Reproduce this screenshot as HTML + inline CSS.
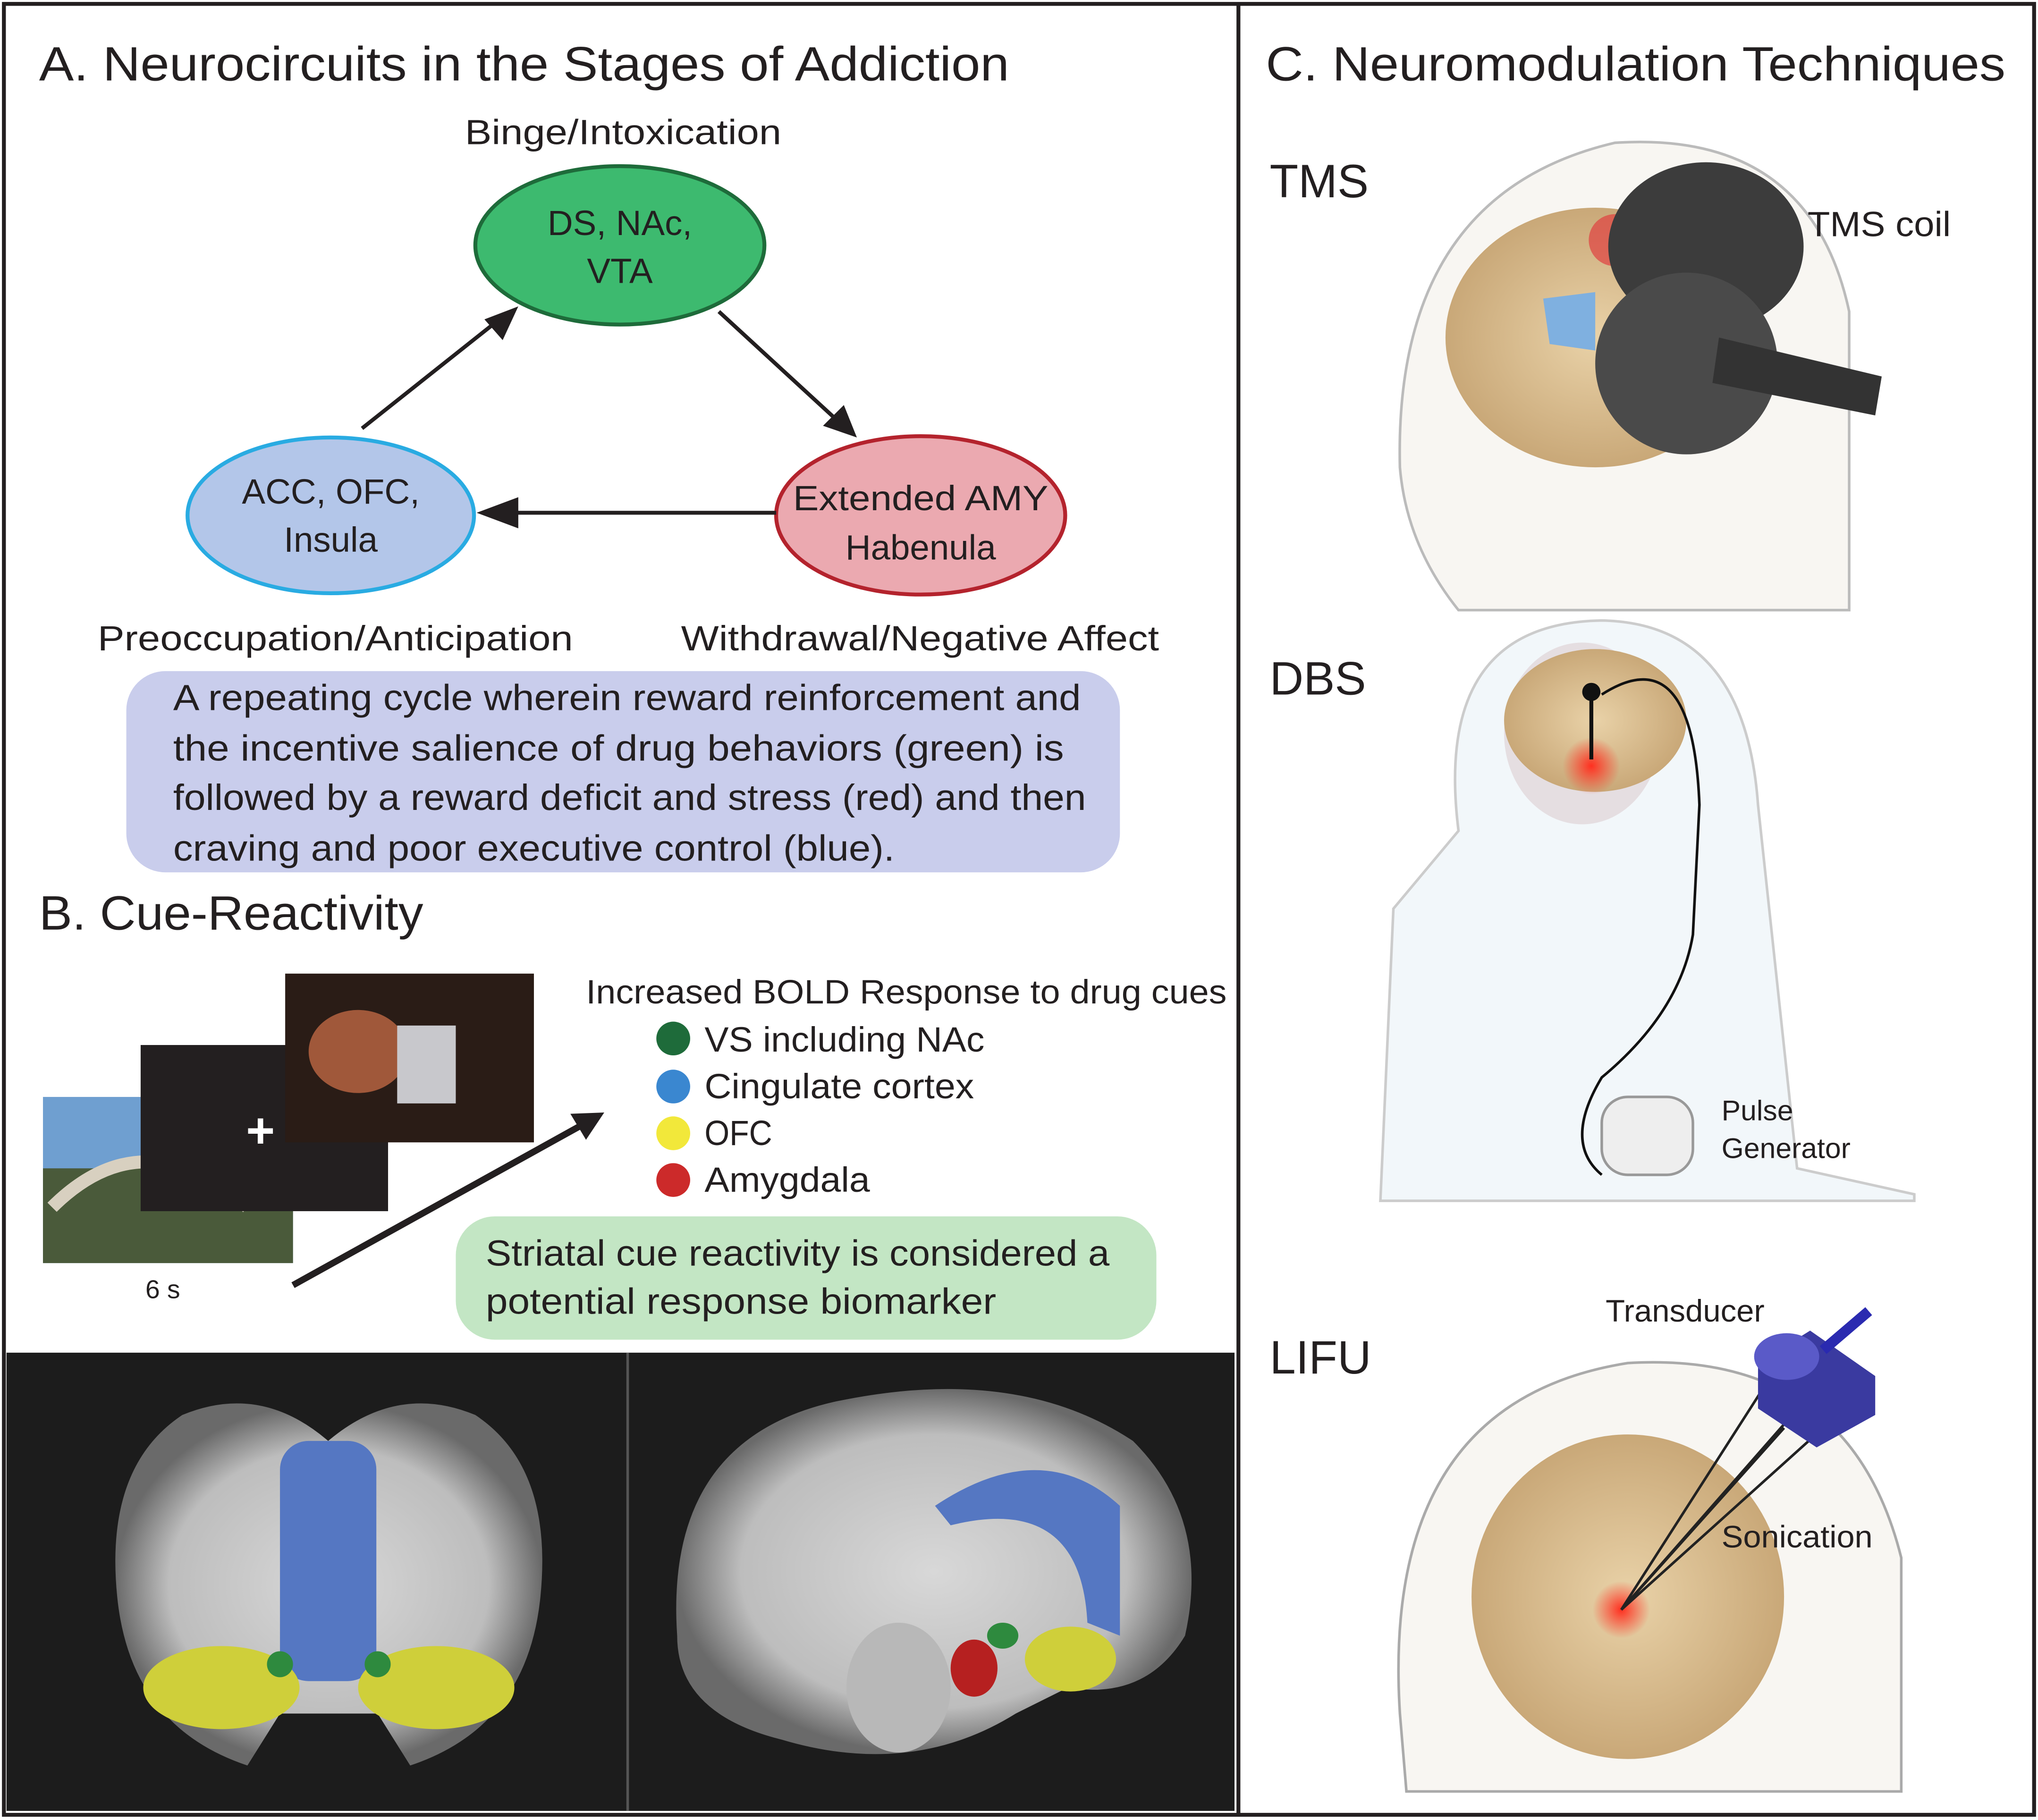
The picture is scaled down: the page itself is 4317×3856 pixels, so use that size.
<!DOCTYPE html>
<html><head><meta charset="utf-8"><style>
html,body{margin:0;padding:0;background:#fff;}
svg{display:block;}
text{font-family:"Liberation Sans","DejaVu Sans",sans-serif;fill:#231f20;}
</style></head><body>
<svg width="4317" height="3856" viewBox="0 0 1565 1402" preserveAspectRatio="none" xmlns="http://www.w3.org/2000/svg">
<defs>
<radialGradient id="glow"><stop offset="0" stop-color="#ff3020"/><stop offset="1" stop-color="#ff3020" stop-opacity="0"/></radialGradient>
<radialGradient id="brain"><stop offset="0" stop-color="#e9d2a8"/><stop offset="1" stop-color="#c9a878"/></radialGradient>
<radialGradient id="mri"><stop offset="0" stop-color="#d8d8d8"/><stop offset="0.75" stop-color="#bdbdbd"/><stop offset="1" stop-color="#6a6a6a"/></radialGradient>
</defs>
<rect x="3" y="3" width="1559" height="1395" fill="#fff" stroke="#231f20" stroke-width="3"/>
<line x1="951" y1="3" x2="951" y2="1398" stroke="#231f20" stroke-width="3"/>

<!-- A -->
<text x="30" y="62" font-size="37" textLength="745" lengthAdjust="spacingAndGlyphs">A. Neurocircuits in the Stages of Addiction</text>
<text x="357" y="111" font-size="27" textLength="243" lengthAdjust="spacingAndGlyphs">Binge/Intoxication</text>
<ellipse cx="476" cy="189" rx="111" ry="61" fill="#3dba6f" stroke="#1e6b3a" stroke-width="3"/>
<text x="476" y="181" font-size="27" text-anchor="middle">DS, NAc,</text>
<text x="476" y="218" font-size="27" text-anchor="middle">VTA</text>
<ellipse cx="254" cy="397" rx="110" ry="60" fill="#b3c6e9" stroke="#29abe2" stroke-width="3"/>
<text x="254" y="388" font-size="27" text-anchor="middle">ACC, OFC,</text>
<text x="254" y="425" font-size="27" text-anchor="middle">Insula</text>
<ellipse cx="707" cy="397" rx="111" ry="61" fill="#eba9b0" stroke="#b4232d" stroke-width="3"/>
<text x="707" y="393" font-size="27" text-anchor="middle" textLength="196" lengthAdjust="spacingAndGlyphs">Extended AMY</text>
<text x="707" y="431" font-size="27" text-anchor="middle">Habenula</text>
<line x1="278" y1="330" x2="386" y2="244" stroke="#231f20" stroke-width="3"/>
<path d="M398,236 L372,246 L386,262 z" fill="#231f20"/>
<line x1="552" y1="240" x2="642" y2="323" stroke="#231f20" stroke-width="3"/>
<path d="M658,337 L632,328 L648,312 z" fill="#231f20"/>
<line x1="596" y1="395" x2="385" y2="395" stroke="#231f20" stroke-width="3"/>
<path d="M366,395 L398,383 L398,407 z" fill="#231f20"/>
<text x="75" y="501" font-size="27" textLength="365" lengthAdjust="spacingAndGlyphs">Preoccupation/Anticipation</text>
<text x="523" y="501" font-size="27" textLength="367" lengthAdjust="spacingAndGlyphs">Withdrawal/Negative Affect</text>
<rect x="97" y="517" width="763" height="155" rx="30" fill="#c9cdec"/>
<text x="133" y="547" font-size="28" textLength="697" lengthAdjust="spacingAndGlyphs">A repeating cycle wherein reward reinforcement and</text>
<text x="133" y="586" font-size="28" textLength="684" lengthAdjust="spacingAndGlyphs">the incentive salience of drug behaviors (green) is</text>
<text x="133" y="624" font-size="28" textLength="701" lengthAdjust="spacingAndGlyphs">followed by a reward deficit and stress (red) and then</text>
<text x="133" y="663" font-size="28" textLength="554" lengthAdjust="spacingAndGlyphs">craving and poor executive control (blue).</text>

<!-- B -->
<text x="30" y="716" font-size="37" textLength="295" lengthAdjust="spacingAndGlyphs">B. Cue-Reactivity</text>
<rect x="33" y="845" width="192" height="128" fill="#6f9fd0"/>
<rect x="33" y="900" width="192" height="73" fill="#4a5a3a"/>
<path d="M40,930 Q110,860 190,930" stroke="#d8d0c0" stroke-width="10" fill="none"/>
<rect x="108" y="805" width="190" height="128" fill="#231f20"/>
<text x="200" y="884" font-size="38" text-anchor="middle" style="fill:#fff;font-weight:bold">+</text>
<rect x="219" y="750" width="191" height="130" fill="#2a1c16"/>
<ellipse cx="275" cy="810" rx="38" ry="32" fill="#a0583a"/>
<rect x="305" y="790" width="45" height="60" fill="#c8c8cc"/>
<text x="125" y="1000" font-size="20" text-anchor="middle">6 s</text>
<line x1="225" y1="990" x2="448" y2="866" stroke="#231f20" stroke-width="5"/>
<path d="M464,857 L438,858 L450,878 z" fill="#231f20"/>
<text x="450" y="773" font-size="26" textLength="492" lengthAdjust="spacingAndGlyphs">Increased BOLD Response to drug cues</text>
<circle cx="517" cy="800" r="13" fill="#1e6b3a"/>
<circle cx="517" cy="837" r="13" fill="#3a87d0"/>
<circle cx="517" cy="873" r="13" fill="#f2e83a"/>
<circle cx="517" cy="909" r="13" fill="#cc2a2a"/>
<text x="541" y="810" font-size="27" textLength="215" lengthAdjust="spacingAndGlyphs">VS including NAc</text>
<text x="541" y="846" font-size="27" textLength="207" lengthAdjust="spacingAndGlyphs">Cingulate cortex</text>
<text x="541" y="882" font-size="27" textLength="52" lengthAdjust="spacingAndGlyphs">OFC</text>
<text x="541" y="918" font-size="27" textLength="127" lengthAdjust="spacingAndGlyphs">Amygdala</text>
<rect x="350" y="937" width="538" height="95" rx="30" fill="#c3e6c4"/>
<text x="373" y="975" font-size="28" textLength="479" lengthAdjust="spacingAndGlyphs">Striatal cue reactivity is considered a</text>
<text x="373" y="1012" font-size="28" textLength="392" lengthAdjust="spacingAndGlyphs">potential response biomarker</text>

<rect x="5" y="1042" width="943" height="353" fill="#1c1c1c"/>
<line x1="482" y1="1042" x2="482" y2="1395" stroke="#555" stroke-width="2"/>
<path d="M252,1110 Q200,1065 140,1090 Q80,1130 90,1230 Q100,1330 190,1360 L215,1320 L290,1320 L315,1360 Q405,1330 415,1230 Q425,1130 365,1090 Q305,1065 252,1110 z" fill="url(#mri)"/>
<rect x="215" y="1110" width="74" height="185" rx="22" fill="#5577c2"/>
<ellipse cx="170" cy="1300" rx="60" ry="32" fill="#cfcf3a"/>
<ellipse cx="335" cy="1300" rx="60" ry="32" fill="#cfcf3a"/>
<circle cx="215" cy="1282" r="10" fill="#2e8a3e"/><circle cx="290" cy="1282" r="10" fill="#2e8a3e"/>
<path d="M520,1260 Q510,1110 640,1080 Q780,1050 870,1110 Q930,1170 910,1260 Q880,1310 820,1300 L780,1320 Q700,1370 600,1340 Q520,1320 520,1260 z" fill="url(#mri)"/>
<path d="M718,1160 Q800,1105 860,1160 L860,1260 L835,1250 Q830,1150 730,1175 z" fill="#5577c2"/>
<ellipse cx="822" cy="1278" rx="35" ry="25" fill="#cfcf3a"/>
<ellipse cx="770" cy="1260" rx="12" ry="10" fill="#2e8a3e"/>
<ellipse cx="748" cy="1285" rx="18" ry="22" fill="#b62020"/>
<ellipse cx="690" cy="1300" rx="40" ry="50" fill="#b8b8b8"/>

<!-- C -->
<text x="972" y="62" font-size="37" textLength="568" lengthAdjust="spacingAndGlyphs">C. Neuromodulation Techniques</text>
<text x="975" y="152" font-size="36">TMS</text>
<text x="975" y="535" font-size="36">DBS</text>
<text x="975" y="1058" font-size="36">LIFU</text>
<!-- TMS -->
<path d="M1075,360 Q1070,150 1240,110 Q1390,100 1420,240 L1420,470 L1120,470 Q1080,420 1075,360 z" fill="#f8f6f2" stroke="#bbb" stroke-width="2"/>
<ellipse cx="1225" cy="260" rx="115" ry="100" fill="url(#brain)"/>
<path d="M1185,230 L1225,225 L1225,270 L1190,265 z" fill="#7fb0e0"/>
<circle cx="1240" cy="185" r="20" fill="#e04040" opacity="0.7"/>
<ellipse cx="1310" cy="190" rx="75" ry="65" fill="#3c3c3c"/>
<ellipse cx="1295" cy="280" rx="70" ry="70" fill="#4a4a4a"/>
<path d="M1320,260 L1445,290 L1440,320 L1315,295 z" fill="#333"/>
<text x="1388" y="182" font-size="27" textLength="110" lengthAdjust="spacingAndGlyphs">TMS coil</text>
<!-- DBS -->
<path d="M1120,640 Q1100,480 1230,478 Q1340,480 1350,620 L1380,900 L1470,920 L1470,925 L1060,925 L1070,700 z" fill="#f2f7fa" stroke="#ccc" stroke-width="2"/>
<ellipse cx="1215" cy="565" rx="60" ry="70" fill="#dccdd0" opacity="0.6"/>
<ellipse cx="1225" cy="555" rx="70" ry="55" fill="url(#brain)"/>
<circle cx="1222" cy="590" r="22" fill="url(#glow)"/>
<line x1="1222" y1="535" x2="1222" y2="585" stroke="#111" stroke-width="3"/>
<circle cx="1222" cy="533" r="7" fill="#111"/>
<path d="M1230,535 Q1300,490 1305,620 L1300,720 Q1290,780 1230,830 Q1200,880 1230,905" fill="none" stroke="#111" stroke-width="2"/>
<rect x="1230" y="845" width="70" height="60" rx="20" fill="#eee" stroke="#999" stroke-width="2"/>
<text x="1322" y="863" font-size="22">Pulse</text>
<text x="1322" y="892" font-size="22">Generator</text>
<!-- LIFU -->
<path d="M1075,1320 Q1060,1080 1250,1050 Q1420,1040 1460,1200 L1460,1380 L1080,1380 z" fill="#f8f6f2" stroke="#aaa" stroke-width="2"/>
<ellipse cx="1250" cy="1230" rx="120" ry="125" fill="url(#brain)"/>
<circle cx="1245" cy="1240" r="22" fill="url(#glow)"/>
<g stroke="#222" stroke-width="2"><line x1="1245" y1="1240" x2="1360" y2="1060"/><line x1="1245" y1="1240" x2="1385" y2="1080"/><line x1="1245" y1="1240" x2="1400" y2="1100"/><line x1="1245" y1="1240" x2="1370" y2="1100"/></g>
<path d="M1350,1050 L1390,1025 L1440,1060 L1440,1090 L1395,1115 L1350,1085 z" fill="#3a3aa0"/>
<ellipse cx="1372" cy="1045" rx="25" ry="18" fill="#5a5ac8"/>
<line x1="1400" y1="1040" x2="1435" y2="1010" stroke="#2a2ab0" stroke-width="8"/>
<text x="1233" y="1018" font-size="24" textLength="122" lengthAdjust="spacingAndGlyphs">Transducer</text>
<text x="1322" y="1192" font-size="24" textLength="116" lengthAdjust="spacingAndGlyphs">Sonication</text>
</svg>
</body></html>
